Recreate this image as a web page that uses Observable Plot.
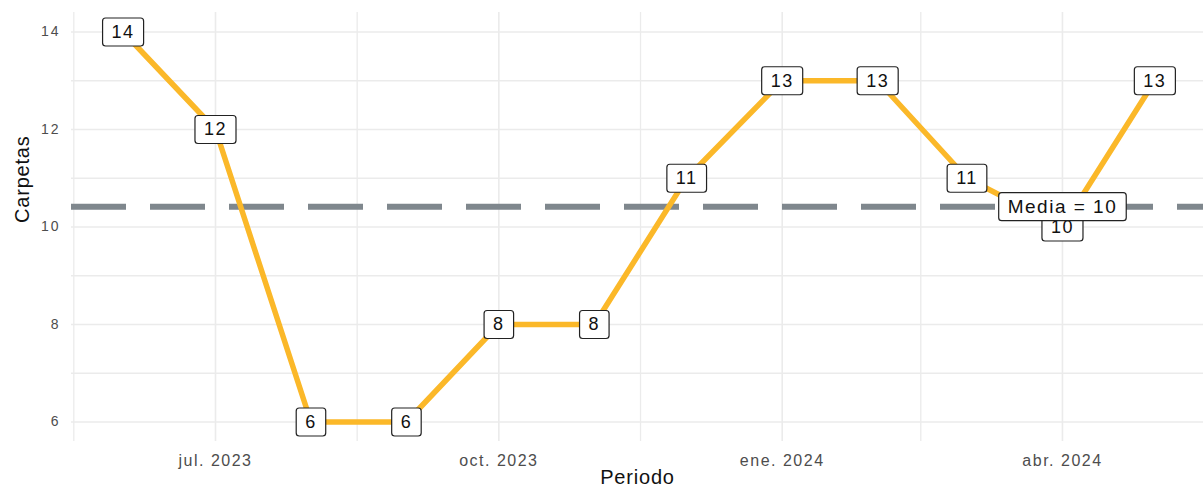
<!DOCTYPE html>
<html>
<head>
<meta charset="utf-8">
<script src="https://cdn.jsdelivr.net/npm/d3@7"></script>
<script src="https://cdn.jsdelivr.net/npm/@observablehq/plot@0.6"></script>
<style>
  html, body { margin: 0; padding: 0; background: #fff; }
  svg { font-family: "Liberation Sans", Arial, sans-serif; }
  g[aria-label="x-axis tick label"] text { letter-spacing: 1.5px; font-size: 16px !important; }
  g[aria-label="y-axis tick label"] text { letter-spacing: 2px; font-size: 14px !important; }
</style>
</head>
<body>
<div id="chart"></div>
<script>
// ---- Data ----
const fechas = ["2023-06-01","2023-07-01","2023-08-01","2023-09-01","2023-10-01","2023-11-01",
                "2023-12-01","2024-01-01","2024-02-01","2024-03-01","2024-04-01","2024-05-01"];
const carpetas = [14, 12, 6, 6, 8, 8, 11, 13, 13, 11, 10, 13];

const tickFechas = ["2023-07-01","2023-10-01","2024-01-01","2024-04-01"];
const tickEtiquetas = ["jul. 2023","oct. 2023","ene. 2024","abr. 2024"];
const minorFechas = ["2023-05-16","2023-08-16","2023-11-16","2024-02-15","2024-05-17"];
const yTicks = [6, 8, 10, 12, 14];
const yMinor = [7, 9, 11, 13];
const mediaFecha = "2024-04-01";
const tituloX = "Periodo";
const tituloY = "Carpetas";

// ---- Build ----
const rows = fechas.map((f, i) => ({fecha: new Date(f), valor: carpetas[i]}));
const media = d3.mean(carpetas);
const mediaRow = [{fecha: new Date(mediaFecha), valor: media, texto: `Media = ${Math.round(media)}`}];
const majorDates = tickFechas.map(d => new Date(d));
const minorDates = minorFechas.map(d => new Date(d));

const chart = Plot.plot({
  width: 1203,
  height: 490,
  marginTop: 12,
  marginBottom: 49,
  marginLeft: 71,
  marginRight: 0,
  x: {type: "utc", domain: [new Date(Date.UTC(2023,4,15,6)), new Date(Date.UTC(2024,4,16,19))]},
  y: {domain: [5.6, 14.4]},
  marks: [
    Plot.gridX({ticks: minorDates, stroke: "#ebebeb", strokeOpacity: 1, strokeWidth: 1.3}),
    Plot.gridX({ticks: majorDates, stroke: "#ebebeb", strokeOpacity: 1, strokeWidth: 1.6}),
    Plot.gridY({ticks: yMinor, stroke: "#ebebeb", strokeOpacity: 1, strokeWidth: 1.3}),
    Plot.gridY({ticks: yTicks, stroke: "#ebebeb", strokeOpacity: 1, strokeWidth: 1.6}),
    Plot.axisX({ticks: majorDates, tickSize: 0, tickPadding: 13, fontSize: 16, color: "#4d4d4d", label: null,
      tickFormat: d => tickEtiquetas[majorDates.findIndex(t => +t === +d)]}),
    Plot.axisY({ticks: yTicks, tickSize: 0, tickPadding: 11, fontSize: 14, color: "#4d4d4d", label: null}),
    Plot.ruleY([media], {stroke: "#7f878d", strokeWidth: 6, strokeDasharray: "55,24"}),
    Plot.line(rows, {x: "fecha", y: "valor", stroke: "#FBB829", strokeWidth: 5.5}),
    Plot.text(rows, {x: "fecha", y: "valor", text: d => String(d.valor), fontSize: 18, fill: "#111",
      textAnchor: "middle", lineAnchor: "middle"}),
    Plot.text(mediaRow, {x: "fecha", y: "valor", text: "texto", fontSize: 19, fill: "#111",
      textAnchor: "middle", lineAnchor: "middle"}),
    Plot.text([tituloX], {text: d => d, frameAnchor: "bottom", dy: 36, fontSize: 20, fill: "#111",
      lineAnchor: "middle"}),
    Plot.text([tituloY], {text: d => d, frameAnchor: "left", dx: -49, dy: -4, rotate: -90, fontSize: 20, fill: "#111",
      lineAnchor: "middle"})
  ]
});
document.getElementById("chart").append(chart);

// text mark groups in order: etiquetas, media, tituloX, tituloY
const textGroups = chart.querySelectorAll('g[aria-label="text"]');

// label boxes (geom_label style)
function boxes(g, h, padX) {
  if (!g) return;
  g.querySelectorAll("text").forEach(t => {
    t.style.letterSpacing = "1.5px";
    const bb = t.getBBox();
    const ya = t.getAttribute("y");
    const cy = (ya && /^-?[\d.]+$/.test(ya)) ? +ya : 0;
    const cx = bb.x + bb.width / 2;
    const w = bb.width + 2 * padX;
    const r = document.createElementNS("http://www.w3.org/2000/svg", "rect");
    r.setAttribute("x", cx - w / 2);
    r.setAttribute("y", cy - h / 2);
    r.setAttribute("width", w);
    r.setAttribute("height", h);
    r.setAttribute("rx", 3);
    r.setAttribute("fill", "#fff");
    r.setAttribute("stroke", "#222");
    r.setAttribute("stroke-width", 1.2);
    if (t.hasAttribute("transform")) r.setAttribute("transform", t.getAttribute("transform"));
    t.parentNode.insertBefore(r, t);
  });
}
boxes(textGroups[0], 28, 9);
boxes(textGroups[1], 28, 9);
[textGroups[2], textGroups[3]].forEach(g => g && g.querySelectorAll("text").forEach(t => t.style.letterSpacing = "0.8px"));
</script>
</body>
</html>
